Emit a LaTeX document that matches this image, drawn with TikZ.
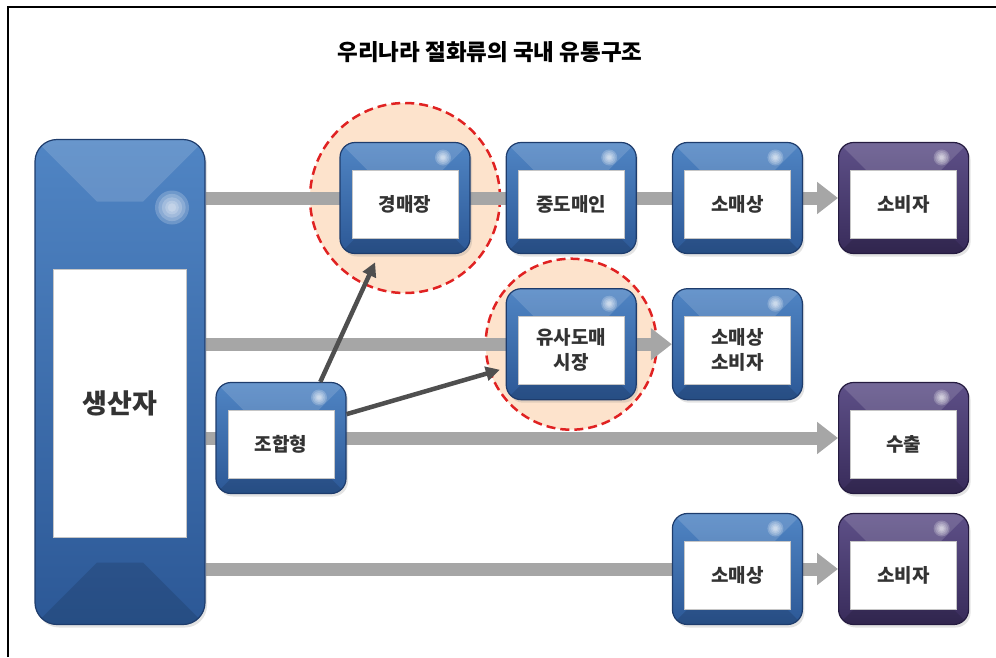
\documentclass[tikz,border=0pt]{standalone}
\usepackage{fontspec}
\setmainfont{Noto Sans CJK KR}
\usepackage{tikz}
\usetikzlibrary{positioning}
\usetikzlibrary{arrows.meta}
\usetikzlibrary{shadows}

\definecolor{bluetop}{HTML}{5085C4}
\definecolor{bluebot}{HTML}{2C5896}
\definecolor{blueline}{HTML}{1E3C6C}
\definecolor{purptop}{HTML}{5E5088}
\definecolor{purpbot}{HTML}{382B5A}
\definecolor{purpline}{HTML}{251B40}
\definecolor{bargray}{HTML}{A6A6A6}
\definecolor{linkgray}{HTML}{4F4F4F}
\definecolor{peach}{HTML}{FDE3CC}
\definecolor{ringred}{HTML}{E02222}
\definecolor{txtgray}{HTML}{333333}

\pgfdeclarelayer{rings}
\pgfdeclarelayer{bars}
\pgfsetlayers{rings,bars,main}

\tikzset{bevel/.initial=28pt, spot x/.initial=27pt, spot y/.initial=15pt, spot r/.initial=8pt}

\begin{document}
\begin{tikzpicture}[x=1pt, y=-1pt,
	panel/.style={rectangle, rounded corners=15pt, minimum width=130pt, minimum height=111pt, draw=blueline, line width=1.2pt,
		top color=bluetop, bottom color=bluebot, drop shadow={opacity=.22, shadow xshift=2pt, shadow yshift=-3pt},
		path picture={
			\fill[sharp corners, white, opacity=.14] (path picture bounding box.north west) -- (path picture bounding box.north east)
				-- ([xshift=-\pgfkeysvalueof{/tikz/bevel}, yshift=-\pgfkeysvalueof{/tikz/bevel}]path picture bounding box.north east)
				-- ([xshift=\pgfkeysvalueof{/tikz/bevel}, yshift=-\pgfkeysvalueof{/tikz/bevel}]path picture bounding box.north west) -- cycle;
			\fill[sharp corners, black, opacity=.12] (path picture bounding box.south west) -- (path picture bounding box.south east)
				-- ([xshift=-\pgfkeysvalueof{/tikz/bevel}, yshift=\pgfkeysvalueof{/tikz/bevel}]path picture bounding box.south east)
				-- ([xshift=\pgfkeysvalueof{/tikz/bevel}, yshift=\pgfkeysvalueof{/tikz/bevel}]path picture bounding box.south west) -- cycle;
			\coordinate (spot) at ([xshift=-\pgfkeysvalueof{/tikz/spot x}, yshift=-\pgfkeysvalueof{/tikz/spot y}]path picture bounding box.north east);
			\foreach \k in {1,0.8,0.6,0.4,0.25}
				\fill[white, opacity=.2] (spot) circle (\k*\pgfkeysvalueof{/tikz/spot r});
		}},
	purple/.style={panel, draw=purpline, top color=purptop, bottom color=purpbot},
	card/.style={rectangle, fill=white, draw=gray!45, line width=.7pt, minimum width=106pt, minimum height=68pt, inner sep=2pt,
		font=\bfseries\fontsize{19}{25}\selectfont, text=txtgray, align=center},
	flow/.style={draw=bargray, line width=13pt, -{Triangle[width=31pt,length=21pt]}},
	link/.style={draw=linkgray, line width=4.5pt, -{Triangle[width=14pt,length=14pt]}},
	ring/.style={circle, fill=peach, draw=ringred, line width=2.5pt, dash pattern=on 9pt off 5pt}]

	\useasboundingbox (0,0) rectangle (996,657);
	\draw[line width=1.5pt] (8,657) -- (8,7) -- (996,7);

	\node[font=\bfseries\fontsize{22.5}{26}\selectfont] (title) at (490,52) {우리나라 절화류의 국내 유통구조};

	% producer
	\node[panel, minimum width=170pt, minimum height=485pt, rounded corners=22pt, bevel=62pt, spot x=33pt, spot y=68pt, spot r=17pt] (prod) at (120,382) {};
	\node[card, minimum width=133pt, minimum height=268pt, font=\bfseries\fontsize{27}{31}\selectfont] (prodT) at ([yshift=-21pt]prod.center) {생산자};

	% first row
	\node[panel] (auc) at (405,198) {};
	\node[panel, right=35pt of auc] (mid) {};
	\node[panel, right=35pt of mid] (rt1) {};
	\node[purple, right=35pt of rt1] (cs1) {};

	% second and third rows
	\node[panel, below=34pt of mid] (mkt) {};
	\node[panel, right=35pt of mkt] (rc) {};
	\node[panel] (co) at (281,438) {};
	\node[purple] (exp) at (cs1 |- co.center) {};

	% last row
	\node[panel, anchor=south] (rt4) at (rt1 |- prod.south) {};
	\node[purple, right=35pt of rt4] (cs4) {};

	\node[card] (aucT) at ([yshift=-6pt]auc.center) {경매장};
	\node[card] (midT) at ([yshift=-6pt]mid.center) {중도매인};
	\node[card] (rt1T) at ([yshift=-6pt]rt1.center) {소매상};
	\node[card] (cs1T) at ([yshift=-6pt]cs1.center) {소비자};
	\node[card] (mktT) at ([yshift=-6pt]mkt.center) {유사도매\\시장};
	\node[card] (rcT) at ([yshift=-6pt]rc.center) {소매상\\소비자};
	\node[card] (coT) at ([yshift=-6pt]co.center) {조합형};
	\node[card] (expT) at ([yshift=-6pt]exp.center) {수출};
	\node[card] (rt4T) at ([yshift=-6pt]rt4.center) {소매상};
	\node[card] (cs4T) at ([yshift=-6pt]cs4.center) {소비자};

	\begin{pgfonlayer}{rings}
		\node[ring, minimum size=190pt] (aucRing) at (auc) {};
		\node[ring, minimum size=171pt] (mktRing) at (mkt) {};
	\end{pgfonlayer}

	\begin{pgfonlayer}{bars}
		\draw[flow] (prod.east |- auc.center) -- (cs1.west |- auc.center);
		\draw[flow] (prod.east |- mkt.center) -- (rc.west |- mkt.center);
		\draw[flow] (prod.east |- co.center) -- (exp.west |- co.center);
		\draw[flow] (prod.east |- rt4.center) -- (cs4.west |- rt4.center);
	\end{pgfonlayer}

	\draw[link, shorten >=9pt] (co.55) -- (auc.245);
	\draw[link, shorten >=6pt] (co.20) -- (mkt.200);
\end{tikzpicture}
\end{document}
